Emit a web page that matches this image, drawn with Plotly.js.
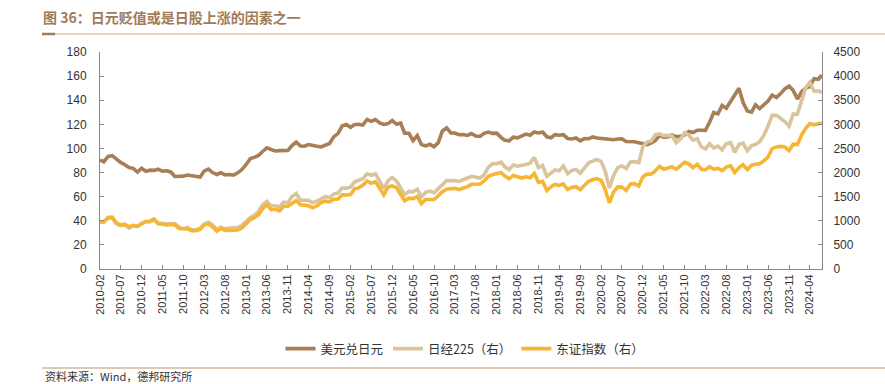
<!DOCTYPE html>
<html>
<head>
<meta charset="utf-8">
<script src="https://cdn.plot.ly/plotly-3.0.1.min.js"></script>
<style>
html,body{margin:0;padding:0;background:#fff;}
#chart{width:885px;height:384px;}
</style>
</head>
<body>
<div id="chart"></div>
<script>
// Monthly points starting 2010-02 (value at the start of each month), plus a final late-June 2024 point
const startYear = 2010, startMonth = 2;
const endDate = '2024-06-27';

// 美元兑日元 (left axis)
const usdjpy = [
  90.3, 89.0, 93.4, 94.0, 91.2, 88.4, 86.5, 84.2, 83.5, 80.4, 83.6,
  81.1, 82.0, 81.8, 82.8, 81.2, 81.5, 80.5, 76.7, 76.6, 77.0, 78.0, 77.6,
  76.9, 76.3, 81.2, 82.8, 80.0, 78.4, 79.8, 78.1, 78.4, 77.9, 79.8, 82.5,
  86.7, 91.7, 92.6, 94.2, 97.5, 100.5, 99.1, 97.9, 98.2, 98.2, 98.4, 102.4,
  105.3, 102.0, 101.8, 103.2, 102.2, 101.8, 101.3, 102.8, 104.1, 109.6, 112.3, 118.6,
  119.8, 117.5, 119.6, 120.1, 119.4, 124.1, 122.5, 123.9, 121.2, 119.9, 120.6, 123.1,
  120.2, 121.0, 112.7, 112.6, 106.5, 110.7, 103.2, 102.1, 103.4, 101.4, 104.8, 114.5,
  117.0, 112.8, 112.8, 111.4, 111.5, 110.8, 112.4, 110.3, 110.0, 112.5, 113.6, 112.5,
  112.7, 109.2, 106.7, 106.3, 109.3, 108.8, 110.7, 111.9, 111.0, 113.7, 112.9, 113.6,
  109.7, 108.9, 111.4, 110.9, 111.4, 108.3, 107.8, 108.7, 106.3, 108.1, 108.0, 109.5,
  108.6, 108.4, 108.0, 107.5, 107.2, 107.8, 107.9, 105.8, 105.9, 105.5, 104.7, 104.3,
  103.2, 104.7, 106.6, 110.7, 109.3, 109.6, 111.1, 109.7, 110.0, 111.3, 114.0, 113.2,
  115.1, 115.1, 115.0, 121.7, 129.8, 128.7, 135.7, 133.3, 138.9, 144.7, 150.0, 138.1,
  131.1, 130.1, 136.2, 133.1, 136.3, 139.3, 144.3, 142.3, 145.5, 149.4, 151.7, 148.2,
  141.0, 147.1, 150.0, 151.4, 157.8, 157.3,
  160.8
];

// 日经225（右）
const nikkei = [
  979, 972, 1065, 1061, 938, 901, 916, 847, 899, 883, 954,
  982, 983, 1020, 936, 946, 931, 942, 944, 860, 835, 863, 810,
  812, 845, 933, 968, 914, 820, 865, 835, 849, 852, 857, 907,
  998, 1069, 1110, 1190, 1331, 1400, 1313, 1312, 1285, 1388, 1375, 1504,
  1564, 1432, 1425, 1423, 1373, 1405, 1456, 1500, 1481, 1553, 1576, 1676,
  1675, 1697, 1805, 1844, 1874, 1974, 1943, 1976, 1813, 1669, 1832, 1896,
  1827, 1682, 1539, 1609, 1600, 1655, 1495, 1591, 1621, 1579, 1673, 1758,
  1835, 1828, 1835, 1815, 1843, 1887, 1923, 1913, 1886, 1954, 2113, 2182,
  2185, 2217, 2119, 2060, 2157, 2131, 2141, 2165, 2195, 2316, 2104, 2146,
  1921, 1994, 2053, 2036, 2137, 1978, 2042, 2066, 1988, 2089, 2201, 2236,
  2271, 2228, 2030, 1680, 1939, 2100, 2140, 2084, 2221, 2226, 2206, 2538,
  2635, 2656, 2781, 2801, 2766, 2771, 2764, 2619, 2697, 2827, 2774, 2671,
  2700, 2530, 2490, 2600, 2510, 2550, 2470, 2600, 2620, 2420, 2580, 2610,
  2450, 2560, 2580, 2640, 2770, 2965, 3186, 3185, 3131, 3058, 2962, 3215,
  3213, 3484, 3760, 3875, 3687, 3695,
  3660
];

// 东证指数（右）
const topix = [
  982, 975, 1067, 1076, 959, 917, 927, 876, 904, 883, 937,
  980, 992, 1037, 947, 928, 913, 925, 917, 839, 829, 833, 795,
  795, 823, 910, 931, 876, 784, 839, 802, 797, 803, 810, 851,
  937, 1025, 1063, 1128, 1252, 1330, 1235, 1233, 1206, 1301, 1303, 1371,
  1419, 1331, 1320, 1311, 1268, 1310, 1377, 1406, 1392, 1445, 1453, 1537,
  1535, 1542, 1660, 1682, 1735, 1824, 1777, 1808, 1675, 1538, 1698, 1722,
  1686, 1562, 1414, 1468, 1461, 1503, 1357, 1441, 1449, 1441, 1518, 1601,
  1655, 1658, 1673, 1648, 1669, 1709, 1756, 1764, 1763, 1825, 1924, 1953,
  1981, 2001, 1927, 1870, 1937, 1904, 1886, 1911, 1891, 1981, 1794, 1817,
  1628, 1708, 1752, 1734, 1763, 1648, 1691, 1706, 1647, 1730, 1817, 1852,
  1876, 1836, 1647, 1370, 1596, 1704, 1698, 1631, 1764, 1771, 1721, 1912,
  1967, 1971, 2032, 2130, 2069, 2095, 2118, 2072, 2137, 2213, 2181, 2102,
  2171, 2066, 2056, 2121, 2070, 2085, 2039, 2115, 2140, 2000, 2103, 2164,
  2062, 2153, 2173, 2183, 2242, 2323, 2495, 2531, 2542, 2532, 2457, 2588,
  2579, 2781, 2916, 3018, 2990, 3021,
  3030
];

const tickLabels = ['2010-02','2010-07','2010-12','2011-05','2011-10','2012-03','2012-08','2013-01','2013-06','2013-11',
  '2014-04','2014-09','2015-02','2015-07','2015-12','2016-05','2016-10','2017-03','2017-08','2018-01',
  '2018-06','2018-11','2019-04','2019-09','2020-02','2020-07','2020-12','2021-05','2021-10','2022-03',
  '2022-08','2023-01','2023-06','2023-11','2024-04'];

const seriesNames = ['美元兑日元', '日经225（右）', '东证指数（右）'];
const titleText = '图 36：日元贬值或是日股上涨的因素之一';
const sourceText = '资料来源：Wind，德邦研究所';

// build dates
const dates = [];
for (let i = 0; i < usdjpy.length - 1; i++) {
  const m0 = startMonth - 1 + i;
  const y = startYear + Math.floor(m0 / 12);
  const m = (m0 % 12) + 1;
  dates.push(y + '-' + String(m).padStart(2, '0') + '-01');
}
dates.push(endDate);

const FONT = '"Liberation Sans", Arial, "Noto Sans CJK SC", sans-serif';
const CJK = '"Noto Sans CJK SC", "Liberation Sans", sans-serif';

const traces = [
  {x: dates, y: usdjpy, name: seriesNames[0], type: 'scatter', mode: 'lines',
   line: {color: '#a87e55', width: 3.6}, yaxis: 'y'},
  {x: dates, y: nikkei, name: seriesNames[1], type: 'scatter', mode: 'lines',
   line: {color: '#d9c49b', width: 3.6}, yaxis: 'y2'},
  {x: dates, y: topix, name: seriesNames[2], type: 'scatter', mode: 'lines',
   line: {color: '#f6b532', width: 3.6}, yaxis: 'y2'}
];

const W = 885, L = 100, R = 63, T = 52, B = 115;
const pw = W - L - R, ph = 384 - T - B;
const px = v => (v - L) / pw;
const py = v => (384 - B - v) / ph;

const layout = {
  width: 885, height: 384,
  margin: {l: L, r: R, t: T, b: B, pad: 0},
  paper_bgcolor: '#fff', plot_bgcolor: '#fff',
  font: {family: FONT, size: 12, color: '#333'},
  title: {text: '<b>' + titleText + '</b>', xref: 'container', yref: 'container',
    x: 43 / 885, xanchor: 'left', y: 1 - 18 / 384, yanchor: 'middle',
    font: {family: CJK, size: 14, color: '#a07b58'}},
  showlegend: true,
  legend: {orientation: 'h', x: px(465), xanchor: 'center', y: py(334), yanchor: 'top',
    font: {family: CJK, size: 12.5, color: '#333'}, itemwidth: 30, tracegroupgap: 0,
    bgcolor: 'rgba(0,0,0,0)'},
  xaxis: {type: 'date', range: ['2010-02-01', '2024-06-28'],
    tickvals: tickLabels.map(s => s + '-01'), ticktext: tickLabels,
    tickangle: -90, ticks: 'inside', ticklen: 4, tickcolor: '#888',
    showline: true, linecolor: '#888', linewidth: 1, showgrid: false, zeroline: false,
    tickfont: {family: FONT, size: 11, color: '#333'}},
  yaxis: {range: [0, 180], dtick: 20, tick0: 0, ticks: 'inside', ticklen: 4, tickcolor: '#888',
    showline: true, linecolor: '#888', linewidth: 1, showgrid: false, zeroline: false,
    tickfont: {family: FONT, size: 12, color: '#333'}, ticklabelstandoff: 10},
  yaxis2: {range: [0, 4500], dtick: 500, tick0: 0, overlaying: 'y', side: 'right',
    ticks: 'inside', ticklen: 4, tickcolor: '#888',
    showline: true, linecolor: '#888', linewidth: 1, showgrid: false, zeroline: false,
    tickfont: {family: FONT, size: 12, color: '#333'}, ticklabelstandoff: 8},
  shapes: [
    {type: 'line', xref: 'paper', yref: 'paper', x0: px(42), x1: px(885), y0: py(34), y1: py(34),
     line: {color: '#c9a98a', width: 1}},
    {type: 'line', xref: 'paper', yref: 'paper', x0: px(42), x1: px(55), y0: py(34), y1: py(34),
     line: {color: '#a07b58', width: 2.5}},
    {type: 'line', xref: 'paper', yref: 'paper', x0: px(42), x1: px(885), y0: py(368), y1: py(368),
     line: {color: '#b89474', width: 1}}
  ],
  annotations: [
    {text: sourceText, xref: 'paper', yref: 'paper', x: px(43), xanchor: 'left', y: py(376), yanchor: 'middle',
     showarrow: false, font: {family: CJK, size: 11, color: '#333'}}
  ]
};

Plotly.newPlot('chart', traces, layout, {displayModeBar: false, staticPlot: true});
</script>
</body>
</html>
